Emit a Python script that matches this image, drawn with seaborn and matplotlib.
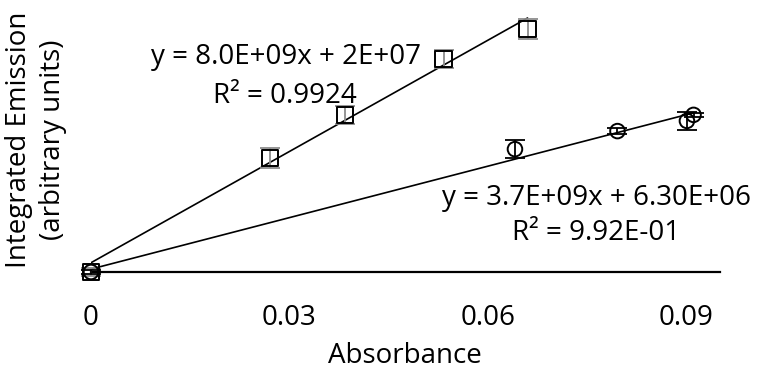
import numpy as np
import pandas as pd
import matplotlib
matplotlib.use("Agg")
import matplotlib.pyplot as plt
import seaborn as sns

# ---- data ----
sq_x = [0.0, 0.0271, 0.0384, 0.0533, 0.0660]
sq_y = [0.0, 2.46e8, 3.39e8, 4.60e8, 5.24e8]
sq_err = [0.8e7, 2.2e7, 2.0e7, 2.0e7, 2.2e7]

ci_x = [0.0, 0.0641, 0.0796, 0.0901, 0.0911]
ci_y = [0.0, 2.65e8, 3.04e8, 3.26e8, 3.39e8]
ci_err = [0.5e7, 1.9e7, 0.6e7, 1.9e7, 0.4e7]

sq_fit = (8.0e9, 2e7)
ci_fit = (3.7e9, 6.30e6)

sq_eq = ["y = 8.0E+09x + 2E+07", "R² = 0.9924"]
ci_eq = ["y = 3.7E+09x + 6.30E+06", "R² = 9.92E-01"]

x_ticks = [0, 0.03, 0.06, 0.09]
x_tick_labels = ["0", "0.03", "0.06", "0.09"]
x_label = "Absorbance"
y_label = "Integrated Emission\n(arbitrary units)"

# ---- style ----
sns.set_style("white")
plt.rcParams['font.family'] = ['Open Sans', 'DejaVu Sans']
plt.rcParams['text.color'] = 'black'
plt.rcParams['xtick.color'] = 'black'
plt.rcParams['axes.labelcolor'] = 'black'
FS = 20

fig = plt.figure(figsize=(7.57, 3.73), dpi=100)
ax = fig.add_axes([91/757, (373-272)/373, (720-91)/757, (272-5)/373])

# trendlines
for xs, (m, b) in [(sq_x, sq_fit), (ci_x, ci_fit)]:
    lx = np.array([min(xs), max(xs)])
    sns.lineplot(x=lx, y=m*lx + b, ax=ax, color="black", lw=1.2, zorder=2)

# error bars
ax.errorbar(sq_x, sq_y, yerr=sq_err, fmt="none", ecolor="#8c8c8c",
            elinewidth=1.3, capsize=7, capthick=1.3, zorder=3, clip_on=False)
ax.errorbar(ci_x, ci_y, yerr=ci_err, fmt="none", ecolor="black",
            elinewidth=1.3, capsize=7, capthick=1.3, zorder=3, clip_on=False)

# markers
df_sq = pd.DataFrame({"x": sq_x, "y": sq_y})
df_ci = pd.DataFrame({"x": ci_x, "y": ci_y})
sns.scatterplot(data=df_sq, x="x", y="y", ax=ax, marker="s", s=135,
                facecolor="none", edgecolor="black", linewidth=1.4,
                zorder=4, clip_on=False)
sns.scatterplot(data=df_ci, x="x", y="y", ax=ax, marker="o", s=110,
                facecolor="none", edgecolor="black", linewidth=1.4,
                zorder=4, clip_on=False)

ax.set_xlim(0, 0.0951)
ax.set_ylim(0, (272-5) / 4.635e-7)

for s in ["top", "right", "left"]:
    ax.spines[s].set_visible(False)
ax.spines["bottom"].set_color("black")
ax.spines["bottom"].set_linewidth(1.6)
ax.set_yticks([])
ax.set_xticks(x_ticks)
ax.set_xticklabels(x_tick_labels, fontsize=FS)
ax.tick_params(axis="x", length=0, pad=23)
ax.set_xlabel("")
ax.set_ylabel("")

# axis titles
fig.text(405/757, 1 - 356/373, x_label, ha="center", va="center", fontsize=FS)
fig.text(36/757, 1 - 140/373, y_label, ha="center", va="center",
         rotation=90, fontsize=FS, linespacing=1.25)

# equations
fig.text(286/757, 1 - 57/373, sq_eq[0], ha="center", va="center", fontsize=FS)
fig.text(285/757, 1 - 96/373, sq_eq[1], ha="center", va="center", fontsize=FS)
fig.text(596/757, 1 - 198/373, ci_eq[0], ha="center", va="center", fontsize=FS)
fig.text(596/757, 1 - 233/373, ci_eq[1], ha="center", va="center", fontsize=FS)

fig.savefig("out.png", dpi=100)
